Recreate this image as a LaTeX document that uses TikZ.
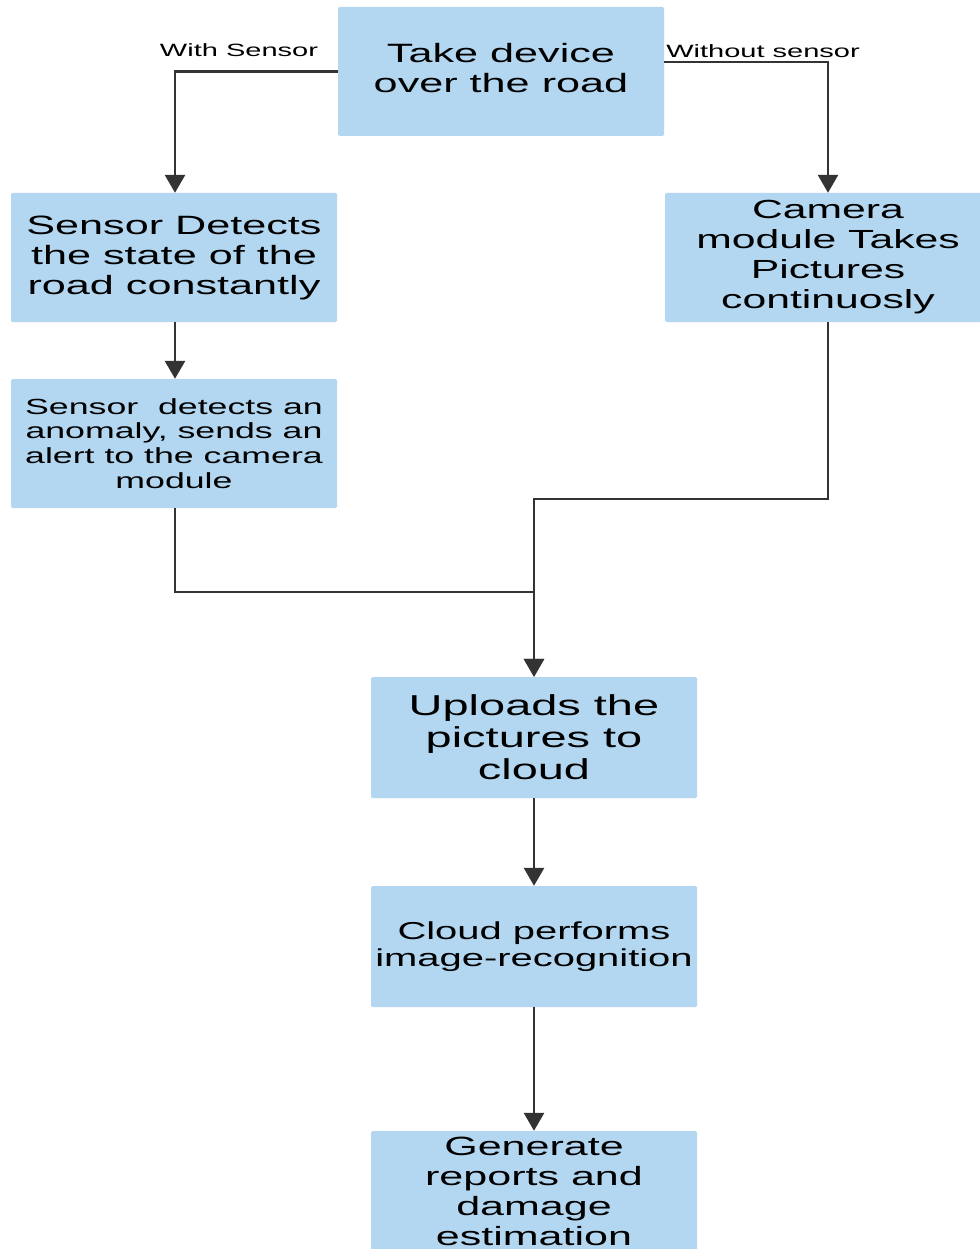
\documentclass[tikz,border=0pt]{standalone}
\usepackage{fontspec}
\setmainfont{Liberation Sans}[FakeStretch=1.63]
\usetikzlibrary{arrows.meta}
\definecolor{boxblue}{HTML}{B3D7F0}
\definecolor{linegray}{HTML}{333333}
\tikzset{
  box/.style={fill=boxblue, rounded corners=1.5pt, inner sep=0pt, align=center, text=black},
  arr/.style={draw=linegray, line width=2.8pt, -{Triangle[length=18pt,width=20pt]}},
  lbl/.style={inner sep=0pt, text=black, font=\fontsize{17.8pt}{20pt}\selectfont}
}
\newcommand{\fs}[2]{\fontsize{#1pt}{#2pt}\selectfont}
\begin{document}
\begin{tikzpicture}[x=1pt,y=-1pt]
\useasboundingbox[fill=white] (0,0) rectangle (979,1249);
\node[box, minimum width=326pt, minimum height=129pt, font=\fs{26.5}{30}] (top) at (501,71.5) {Take device\\over the road\\[-22pt]\mbox{}};
\node[box, minimum width=326pt, minimum height=129pt, font=\fs{26.5}{30}] (s1) at (174,257.5) {Sensor Detects\\the state of the\\road constantly};
\node[box, minimum width=326pt, minimum height=129pt, font=\fs{26.2}{30}] (cam) at (828,257.5) {Camera\\module Takes\\Pictures\\continuosly};
\node[box, minimum width=326pt, minimum height=129pt, font=\fs{21.9}{24.7}] (s2) at (174,443.5) {Sensor\ \ detects an\\anomaly, sends an\\alert to the camera\\module};
\node[box, minimum width=326pt, minimum height=121pt, font=\fs{28.8}{32}] (up) at (534,737.5) {Uploads the\\pictures to\\cloud};
\node[box, minimum width=326pt, minimum height=121pt, font=\fs{24.5}{27}] (cl) at (534,946.5) {Cloud performs\\image-recognition};
\node[box, minimum width=326pt, minimum height=121pt, font=\fs{26.4}{30}] (gen) at (534,1191.5) {Generate\\reports and\\damage\\estimation};
\node[lbl] (lw) at (239,50) {With Sensor};
\node[lbl] (lwo) at (763,51) {Without sensor};
\coordinate (m1) at (534,592);
\coordinate (m2) at (534,499);
\draw[arr] (top.west) -| ([xshift=1pt]s1.north);
\draw[arr] ([yshift=9.5pt]top.east) -| (cam.north);
\draw[arr] ([xshift=1pt]s1.south) -- ([xshift=1pt]s2.north);
\draw[arr] ([xshift=1pt]s2.south) |- (m1) -- (up.north);
\draw[arr] (cam.south) |- (m2) -- (up.north);
\draw[arr] (up.south) -- (cl.north);
\draw[arr] (cl.south) -- (gen.north);
\end{tikzpicture}
\end{document}
